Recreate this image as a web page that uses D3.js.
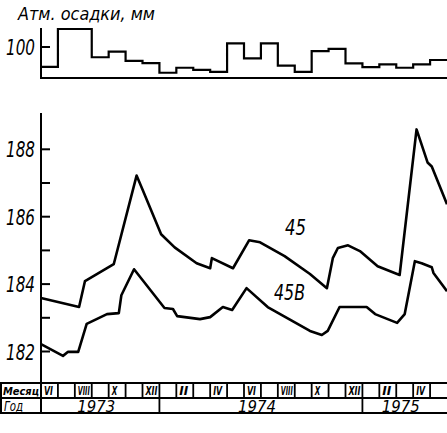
<!DOCTYPE html>
<html>
<head>
<meta charset="utf-8">
<script src="https://cdn.jsdelivr.net/npm/d3@7"></script>
<style>
  body { margin: 0; background: #fff; }
  svg text { font-family: "Liberation Sans Narrow", "DejaVu Sans Condensed", "Liberation Sans", sans-serif; font-style: italic; fill: #000; }
</style>
</head>
<body>
<script>
// time is counted in months from 1 June 1973
var monthNames = [ "VI", "", "VIII", "", "X", "", "XII", "", "II", "", "IV", "", "VI", "", "VIII", "", "X", "", "XII", "", "II", "", "IV", "" ];
var years = [ "1973", "1974", "1975" ];
var yearStart = [ 0, 7, 19 ];
var yearEnd = [ 7, 19, 24 ];

// monthly precipitation, mm
var rain = [ 36, 158, 158, 67, 85, 55, 48, 17, 33, 26, 20, 112, 63, 112, 40, 20, 87, 94, 47, 35, 44, 33, 44, 58 ];

// water level, well 45
var t45 = [ 0, 2.25, 2.6, 4.3, 5.65, 6.0, 7.1, 7.9, 9.2, 10.0, 10.1, 11.35, 12.3, 12.95, 14.4, 15.9, 16.9, 17.25, 17.55, 18.15, 18.85, 19.9, 21.2, 22.2, 22.85, 23.1, 24 ];
var level45 = [ 183.59, 183.32, 184.09, 184.59, 187.22, 186.81, 185.48, 185.09, 184.62, 184.47, 184.77, 184.47, 185.30, 185.24, 184.83, 184.30, 183.88, 184.77, 185.07, 185.15, 184.98, 184.53, 184.27, 188.59, 187.61, 187.49, 186.37 ];

// water level, well 45B
var t45B = [ 0, 1.3, 1.6, 2.2, 2.7, 3.9, 4.6, 4.75, 5.5, 7.3, 7.8, 8.05, 9.4, 10.0, 10.75, 11.3, 12.15, 13.4, 15.9, 16.6, 16.95, 17.65, 19.25, 19.75, 21.05, 21.5, 22.1, 22.5, 23.1, 23.2, 24 ];
var level45B = [ 182.22, 181.87, 181.99, 181.99, 182.82, 183.11, 183.14, 183.67, 184.44, 183.29, 183.26, 183.05, 182.96, 183.02, 183.32, 183.23, 183.88, 183.32, 182.61, 182.49, 182.61, 183.32, 183.32, 183.11, 182.85, 183.11, 184.68, 184.62, 184.50, 184.33, 183.79 ];

var levelTicks = [ 182, 183, 184, 185, 186, 187, 188 ];
var levelLabels = [ 182, 184, 186, 188 ];

var W = 447, H = 433;
var svg = d3.select( "body" ).append( "svg" )
  .attr( "width", W )
  .attr( "height", H );

var x = d3.scaleLinear().domain( [ 0, 24 ] ).range( [ 41, 447 ] );
var yRain = d3.scaleLinear().domain( [ 0, 100 ] ).range( [ 78, 47 ] );
var y = d3.scaleLinear().domain( [ 182, 188 ] ).range( [ 351.5, 149.3 ] );

var tableTop = 383, tableMid = 398, tableBot = 413;

// squeeze a text into a given width (the original lettering is very narrow)
function squeeze( sel, w ) {
  sel.attr( "textLength", w ).attr( "lengthAdjust", "spacingAndGlyphs" );
}

// ---- precipitation block
svg.append( "text" )
  .attr( "x", 18 ).attr( "y", 20 )
  .style( "font-size", "18px" )
  .text( "Атм. осадки, мм" )
  .call( squeeze, 137 );

svg.append( "line" )
  .attr( "x1", x( 0 ) ).attr( "x2", x( 0 ) )
  .attr( "y1", 28 ).attr( "y2", yRain( 0 ) + 1 )
  .attr( "stroke", "#000" ).attr( "stroke-width", 2 );
svg.append( "line" )
  .attr( "x1", x( 0 ) ).attr( "x2", W )
  .attr( "y1", yRain( 0 ) ).attr( "y2", yRain( 0 ) )
  .attr( "stroke", "#000" ).attr( "stroke-width", 2 );
svg.append( "line" )
  .attr( "x1", x( 0 ) ).attr( "x2", x( 0 ) + 9 )
  .attr( "y1", yRain( 100 ) ).attr( "y2", yRain( 100 ) )
  .attr( "stroke", "#000" ).attr( "stroke-width", 2 );
svg.append( "text" )
  .attr( "x", 6 ).attr( "y", yRain( 100 ) + 8 )
  .style( "font-size", "22px" )
  .text( "100" )
  .call( squeeze, 29 );

var rainSteps = rain.map( function ( d, i ) { return [ i, d ]; } );
rainSteps.push( [ 24, rain[ rain.length - 1 ] ] );
svg.append( "path" )
  .datum( rainSteps )
  .attr( "fill", "none" )
  .attr( "stroke", "#000" )
  .attr( "stroke-width", 2.2 )
  .attr( "d", d3.line()
    .x( function ( d ) { return x( d[ 0 ] ); } )
    .y( function ( d ) { return yRain( d[ 1 ] ); } )
    .curve( d3.curveStepAfter ) );

// ---- water level block
svg.append( "line" )
  .attr( "x1", x( 0 ) ).attr( "x2", x( 0 ) )
  .attr( "y1", 113 ).attr( "y2", tableBot )
  .attr( "stroke", "#000" ).attr( "stroke-width", 2 );

svg.selectAll( "line.tick" )
  .data( levelTicks )
  .enter().append( "line" )
  .attr( "class", "tick" )
  .attr( "x1", x( 0 ) ).attr( "x2", x( 0 ) + 9 )
  .attr( "y1", function ( d ) { return y( d ); } )
  .attr( "y2", function ( d ) { return y( d ); } )
  .attr( "stroke", "#000" ).attr( "stroke-width", 2 );

svg.selectAll( "text.lab" )
  .data( levelLabels )
  .enter().append( "text" )
  .attr( "class", "lab" )
  .attr( "x", 6 )
  .attr( "y", function ( d ) { return y( d ) + 8; } )
  .style( "font-size", "22px" )
  .text( function ( d ) { return d; } )
  .call( squeeze, 29 );

var levelLine = d3.line()
  .x( function ( d ) { return x( d[ 0 ] ); } )
  .y( function ( d ) { return y( d[ 1 ] ); } );

svg.append( "path" )
  .datum( d3.zip( t45, level45 ) )
  .attr( "fill", "none" )
  .attr( "stroke", "#000" )
  .attr( "stroke-width", 2.6 )
  .attr( "stroke-linejoin", "round" )
  .attr( "d", levelLine );

svg.append( "path" )
  .datum( d3.zip( t45B, level45B ) )
  .attr( "fill", "none" )
  .attr( "stroke", "#000" )
  .attr( "stroke-width", 2.6 )
  .attr( "stroke-linejoin", "round" )
  .attr( "d", levelLine );

svg.append( "text" )
  .attr( "x", 285 ).attr( "y", 235 )
  .style( "font-size", "22px" )
  .text( "45" )
  .call( squeeze, 21 );
svg.append( "text" )
  .attr( "x", 274 ).attr( "y", 300 )
  .style( "font-size", "22px" )
  .text( "45В" )
  .call( squeeze, 31 );

// ---- months / years table
[ tableTop, tableMid, tableBot ].forEach( function ( ty ) {
  svg.append( "line" )
    .attr( "x1", 0 ).attr( "x2", W )
    .attr( "y1", ty ).attr( "y2", ty )
    .attr( "stroke", "#000" ).attr( "stroke-width", 2 );
} );
svg.append( "line" )
  .attr( "x1", 1 ).attr( "x2", 1 )
  .attr( "y1", tableTop ).attr( "y2", tableBot )
  .attr( "stroke", "#000" ).attr( "stroke-width", 2 );

svg.selectAll( "line.month" )
  .data( d3.range( 1, 24 ) )
  .enter().append( "line" )
  .attr( "class", "month" )
  .attr( "x1", function ( d ) { return x( d ); } )
  .attr( "x2", function ( d ) { return x( d ); } )
  .attr( "y1", tableTop )
  .attr( "y2", function ( d ) { return yearStart.indexOf( d ) >= 0 ? tableBot : tableMid; } )
  .attr( "stroke", "#000" ).attr( "stroke-width", 1.8 );

var labelled = monthNames
  .map( function ( d, i ) { return { name: d, i: i }; } )
  .filter( function ( d ) { return d.name !== ""; } );

svg.selectAll( "text.month" )
  .data( labelled )
  .enter().append( "text" )
  .attr( "class", "month" )
  .attr( "x", function ( d ) { return x( d.i ) + 3; } )
  .attr( "y", tableMid - 3 )
  .style( "font-size", "13px" )
  .style( "font-weight", "bold" )
  .text( function ( d ) { return d.name; } )
  .each( function ( d ) {
    d3.select( this ).call( squeeze, Math.min( 12, d.name.length * 3.5 + 2 ) );
  } );

svg.append( "text" )
  .attr( "x", 3 ).attr( "y", tableMid - 3 )
  .style( "font-size", "10px" )
  .style( "font-weight", "bold" )
  .text( "Месяц" )
  .call( squeeze, 36 );

svg.append( "text" )
  .attr( "x", 4 ).attr( "y", tableBot - 2 )
  .style( "font-size", "14px" )
  .text( "Год" )
  .call( squeeze, 19 );

svg.selectAll( "text.year" )
  .data( years )
  .enter().append( "text" )
  .attr( "class", "year" )
  .attr( "x", function ( d, i ) { return ( x( yearStart[ i ] ) + x( yearEnd[ i ] ) ) / 2 - 23; } )
  .attr( "y", tableBot - 1 )
  .style( "font-size", "15px" )
  .text( function ( d ) { return d; } )
  .call( squeeze, 38 );
</script>
</body>
</html>
